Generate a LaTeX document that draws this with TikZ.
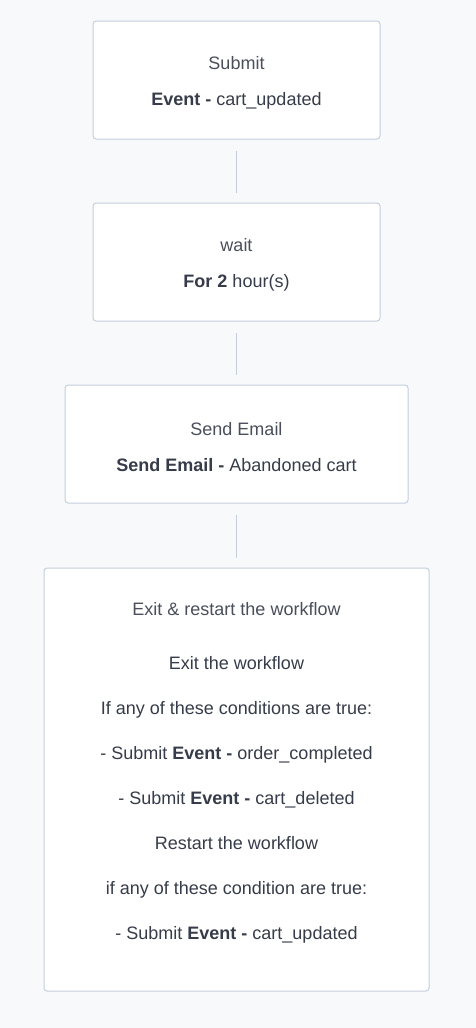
\documentclass[tikz,border=0pt]{standalone}
\usepackage{fontspec}
\setmainfont{Liberation Sans}
\usetikzlibrary{positioning}
\definecolor{page}{HTML}{F8F9FB}
\definecolor{edge}{HTML}{C4CFDE}
\definecolor{ink}{HTML}{4A4F5B}
\definecolor{inkb}{HTML}{363C49}
\tikzset{
    %Define style for step boxes
    stepbox/.style={
    rectangle,
    rounded corners=3pt,
    draw=edge, line width=1pt,
    fill=white,
    text=ink,
    align=center,
    font=\fontsize{18}{36}\selectfont,
    minimum height=118pt,
    inner sep=0pt,
    text height=55pt
    },
    exitbox/.style={
    stepbox,
    minimum width=385pt,
    minimum height=423pt,
    font=\fontsize{18}{45}\selectfont,
    text height={},
    text depth=18pt
    },
    % Define link style
    link/.style={
    draw=edge,
    line width=1.2pt,
    shorten <=11pt,
    shorten >=10pt},
}
\newcommand{\bb}[1]{\textbf{\color{inkb}#1}}
\newcommand{\md}[1]{{\color{inkb}#1}}
\begin{document}
\begin{tikzpicture}[x=1pt,y=-1pt,node distance=63pt]
\fill[page] (0,0) rectangle (476,1028);
\useasboundingbox (0,0) rectangle (476,1028);
%nodes
\node[stepbox, minimum width=287pt](submit) at (236.5,80){Submit\\ \bb{Event -} \md{cart\_updated}};
\node[stepbox, minimum width=287pt, below=of submit](wait){wait\\ \bb{For 2} \md{hour(s)}};
\node[stepbox, minimum width=343pt, below=of wait](email){Send Email\\ \bb{Send Email -} \md{Abandoned cart}};
\node[exitbox, below=64pt of email](exit){Exit \& restart the workflow\\[9pt]
\md{Exit the workflow}\\
\md{If any of these conditions are true:}\\
\md{- Submit \bb{Event -} order\_completed}\\
\md{- Submit \bb{Event -} cart\_deleted}\\
\md{Restart the workflow}\\
\md{if any of these condition are true:}\\
\md{- Submit \bb{Event -} cart\_updated}};
%links
\path[link] (submit) -- (wait);
\path[link] (wait) -- (email);
\path[link] (email) -- (exit);
\end{tikzpicture}
\end{document}
